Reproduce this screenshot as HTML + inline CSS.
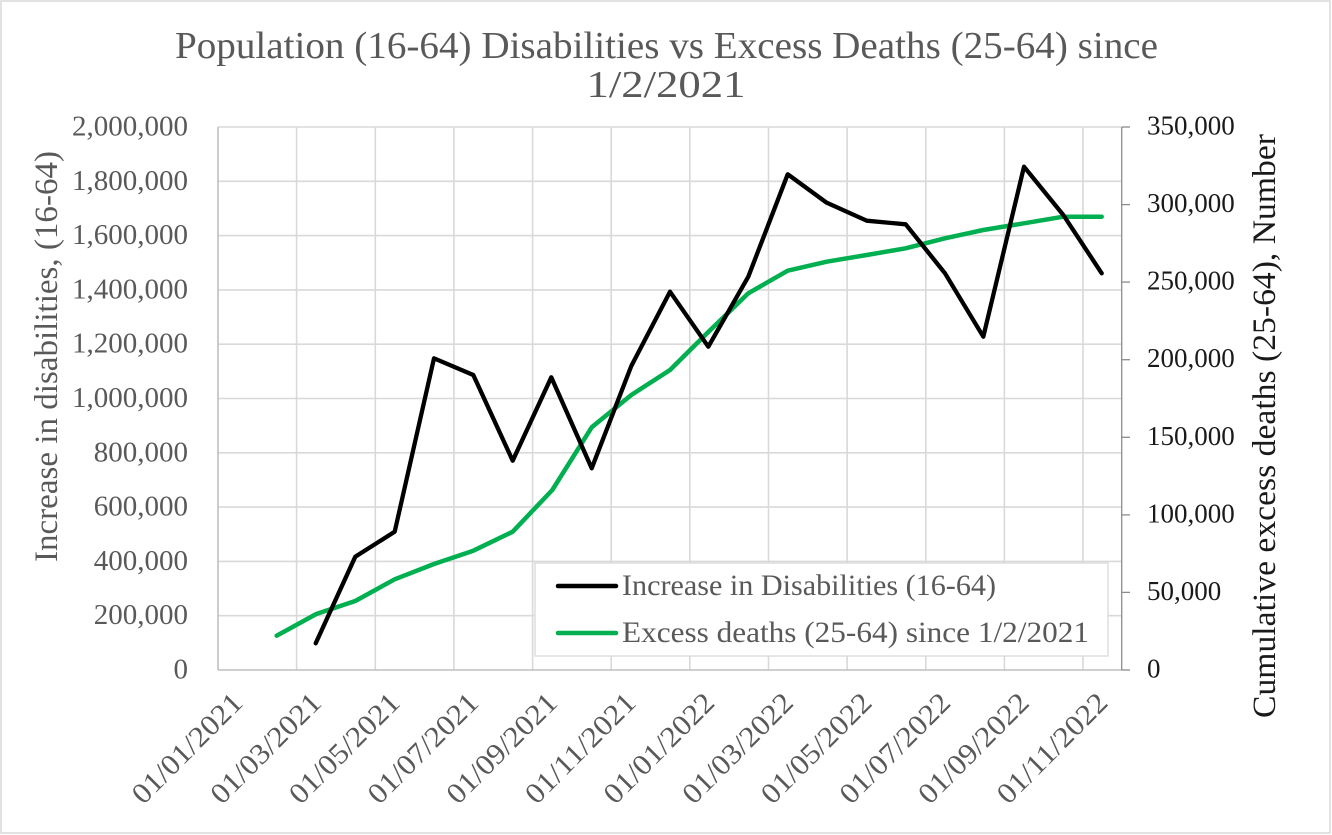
<!DOCTYPE html>
<html><head><meta charset="utf-8"><style>html,body{margin:0;padding:0;background:#fff}svg{display:block}</style></head>
<body>
<svg width="1332" height="835" viewBox="0 0 1332 835" xmlns="http://www.w3.org/2000/svg" font-family="'Liberation Serif', serif">
<rect x="0" y="0" width="1332" height="835" fill="#fff"/>
<rect x="1" y="1" width="1329" height="832" fill="none" stroke="#d9d9d9" stroke-width="1.5"/>
<!-- title -->
<text x="175" y="58" font-size="38" fill="#595959" textLength="983" lengthAdjust="spacingAndGlyphs">Population (16-64) Disabilities vs Excess Deaths (25-64) since</text>
<text x="666" y="97" font-size="38" fill="#595959" text-anchor="middle" textLength="159" lengthAdjust="spacingAndGlyphs">1/2/2021</text>
<!-- gridlines -->
<g stroke="#d9d9d9" stroke-width="1.6">
<line x1="218" y1="615.7" x2="1121" y2="615.7"/>
<line x1="218" y1="561.4" x2="1121" y2="561.4"/>
<line x1="218" y1="507.1" x2="1121" y2="507.1"/>
<line x1="218" y1="452.8" x2="1121" y2="452.8"/>
<line x1="218" y1="398.5" x2="1121" y2="398.5"/>
<line x1="218" y1="344.2" x2="1121" y2="344.2"/>
<line x1="218" y1="289.9" x2="1121" y2="289.9"/>
<line x1="218" y1="235.6" x2="1121" y2="235.6"/>
<line x1="218" y1="181.3" x2="1121" y2="181.3"/>
<line x1="218" y1="127" x2="1121" y2="127"/>
<line x1="296.6" y1="127" x2="296.6" y2="670"/>
<line x1="375.3" y1="127" x2="375.3" y2="670"/>
<line x1="453.9" y1="127" x2="453.9" y2="670"/>
<line x1="532.6" y1="127" x2="532.6" y2="670"/>
<line x1="611.2" y1="127" x2="611.2" y2="670"/>
<line x1="689.8" y1="127" x2="689.8" y2="670"/>
<line x1="768.5" y1="127" x2="768.5" y2="670"/>
<line x1="847.1" y1="127" x2="847.1" y2="670"/>
<line x1="925.8" y1="127" x2="925.8" y2="670"/>
<line x1="1004.4" y1="127" x2="1004.4" y2="670"/>
<line x1="1083" y1="127" x2="1083" y2="670"/>
</g>
<!-- axes -->
<line x1="218" y1="127" x2="218" y2="670" stroke="#bfbfbf" stroke-width="1.6"/>
<line x1="218" y1="670" x2="1121.7" y2="670" stroke="#bfbfbf" stroke-width="1.6"/>
<g stroke="#8c8c8c" stroke-width="1.3">
<line x1="1121.7" y1="127" x2="1121.7" y2="670"/>
<line x1="1121.7" y1="670" x2="1130" y2="670"/>
<line x1="1121.7" y1="592.4" x2="1130" y2="592.4"/>
<line x1="1121.7" y1="514.9" x2="1130" y2="514.9"/>
<line x1="1121.7" y1="437.3" x2="1130" y2="437.3"/>
<line x1="1121.7" y1="359.7" x2="1130" y2="359.7"/>
<line x1="1121.7" y1="282.1" x2="1130" y2="282.1"/>
<line x1="1121.7" y1="204.6" x2="1130" y2="204.6"/>
<line x1="1121.7" y1="127" x2="1130" y2="127"/>
</g>
<!-- left labels -->
<g font-size="29" fill="#595959" text-anchor="end">
<text x="188" y="678.5">0</text>
<text x="188" y="624.2">200,000</text>
<text x="188" y="569.9">400,000</text>
<text x="188" y="515.6">600,000</text>
<text x="188" y="461.3">800,000</text>
<text x="188" y="407">1,000,000</text>
<text x="188" y="352.7">1,200,000</text>
<text x="188" y="298.4">1,400,000</text>
<text x="188" y="244.1">1,600,000</text>
<text x="188" y="189.8">1,800,000</text>
<text x="188" y="135.5">2,000,000</text>
</g>
<!-- right labels -->
<g font-size="27" fill="#1a1a1a">
<text x="1147" y="677.5">0</text>
<text x="1147" y="599.9">50,000</text>
<text x="1147" y="522.4">100,000</text>
<text x="1147" y="444.8">150,000</text>
<text x="1147" y="367.2">200,000</text>
<text x="1147" y="289.6">250,000</text>
<text x="1147" y="212.1">300,000</text>
<text x="1147" y="134.5">350,000</text>
</g>
<!-- axis titles -->
<text transform="translate(57,356.5) rotate(-90)" font-size="33" fill="#595959" text-anchor="middle" textLength="411" lengthAdjust="spacingAndGlyphs">Increase in disabilities, (16-64)</text>
<text transform="translate(1275,426) rotate(-90)" font-size="33" fill="#1a1a1a" text-anchor="middle" textLength="584" lengthAdjust="spacingAndGlyphs">Cumulative excess deaths (25-64), Number</text>
<!-- x labels -->
<g font-size="29" fill="#595959" text-anchor="end" dominant-baseline="central">
<text transform="translate(238,698) rotate(-45)" textLength="143" lengthAdjust="spacingAndGlyphs">01/01/2021</text>
<text transform="translate(316.6,698) rotate(-45)" textLength="143" lengthAdjust="spacingAndGlyphs">01/03/2021</text>
<text transform="translate(395.3,698) rotate(-45)" textLength="143" lengthAdjust="spacingAndGlyphs">01/05/2021</text>
<text transform="translate(473.9,698) rotate(-45)" textLength="143" lengthAdjust="spacingAndGlyphs">01/07/2021</text>
<text transform="translate(552.6,698) rotate(-45)" textLength="143" lengthAdjust="spacingAndGlyphs">01/09/2021</text>
<text transform="translate(631.2,698) rotate(-45)" textLength="143" lengthAdjust="spacingAndGlyphs">01/11/2021</text>
<text transform="translate(709.8,698) rotate(-45)" textLength="143" lengthAdjust="spacingAndGlyphs">01/01/2022</text>
<text transform="translate(788.5,698) rotate(-45)" textLength="143" lengthAdjust="spacingAndGlyphs">01/03/2022</text>
<text transform="translate(867.1,698) rotate(-45)" textLength="143" lengthAdjust="spacingAndGlyphs">01/05/2022</text>
<text transform="translate(945.8,698) rotate(-45)" textLength="143" lengthAdjust="spacingAndGlyphs">01/07/2022</text>
<text transform="translate(1024.4,698) rotate(-45)" textLength="143" lengthAdjust="spacingAndGlyphs">01/09/2022</text>
<text transform="translate(1103,698) rotate(-45)" textLength="143" lengthAdjust="spacingAndGlyphs">01/11/2022</text>
</g>
<!-- series -->
<polyline fill="none" stroke="#00b050" stroke-width="4.5" stroke-linejoin="round" stroke-linecap="round" points="276.7,635.7 316.3,614 355.3,601 394.7,579.3 434,564 473.3,550.7 512.7,531.7 552.3,490 591.7,427.3 631.3,395 670,370 708.3,332 748.3,293.3 787.7,270.7 826.7,261.7 866.7,255 905.7,248.3 945,238.3 983.3,230 1024,223.3 1063.3,216.7 1101.7,216.7"/>
<polyline fill="none" stroke="#000" stroke-width="4.3" stroke-linejoin="round" stroke-linecap="round" points="315.7,643.3 355.3,556.7 394.7,531.7 434,358.3 473.3,375 512.7,460.7 551.3,377.3 591.7,468.3 631.3,366 670,291.7 708.3,346.7 748.3,276.7 787.7,174.3 826.7,202.7 866.7,220.7 905.7,224.3 945,273.3 983.3,336.7 1024,166.7 1063.3,215 1101.7,273.3"/>
<!-- legend -->
<rect x="535" y="563" width="573" height="93" fill="#fff" stroke="#d9d9d9" stroke-width="1.3"/>
<line x1="558" y1="586" x2="616" y2="586" stroke="#000" stroke-width="4.5" stroke-linecap="round"/>
<line x1="558" y1="633" x2="616" y2="633" stroke="#00b050" stroke-width="4.5" stroke-linecap="round"/>
<text x="622" y="595" font-size="30" fill="#595959" textLength="374" lengthAdjust="spacingAndGlyphs">Increase in Disabilities (16-64)</text>
<text x="622" y="642" font-size="30" fill="#595959" textLength="467" lengthAdjust="spacingAndGlyphs">Excess deaths (25-64) since 1/2/2021</text>
</svg>
</body></html>
